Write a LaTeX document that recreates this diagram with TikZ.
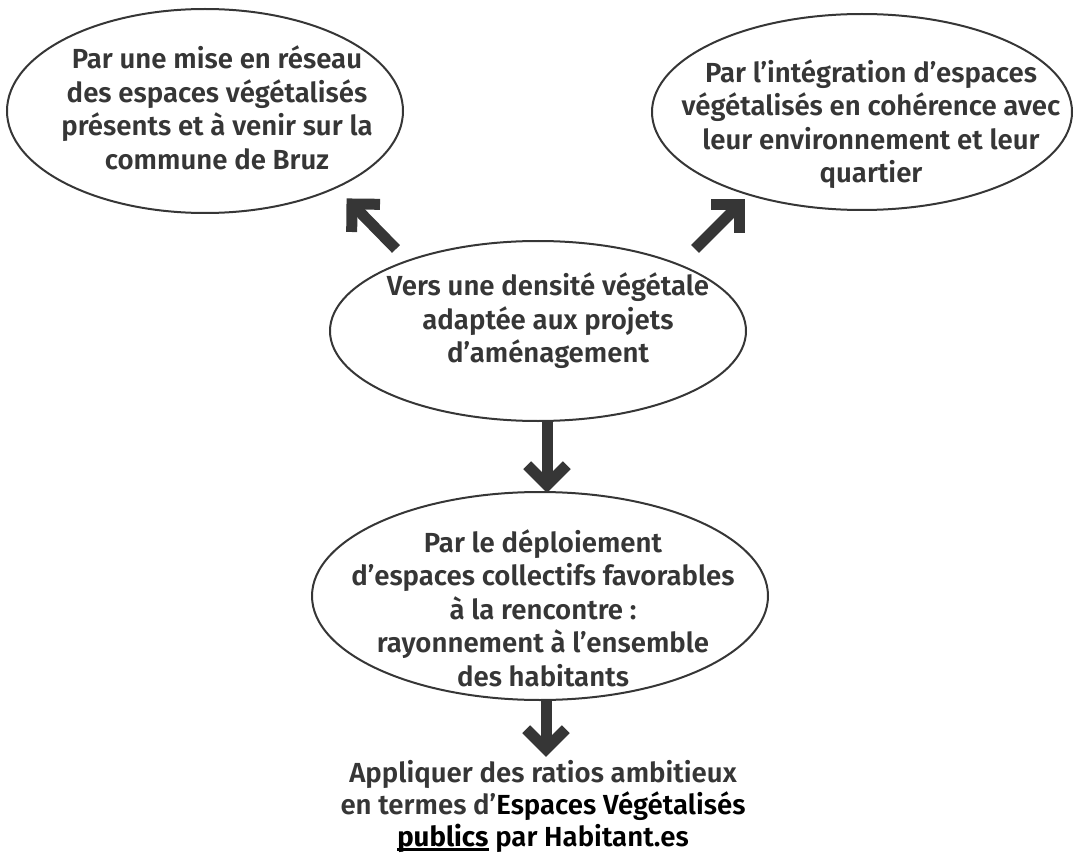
\documentclass[tikz,border=0pt]{standalone}
\usepackage{fontspec}
\IfFontExistsTF{Fira Sans SemiBold}{\setmainfont{Fira Sans}[UprightFont={* SemiBold},BoldFont={* Bold}]}{\setmainfont{Fira Sans}}
\usetikzlibrary{shapes.geometric,calc}
\definecolor{ink}{HTML}{363636}
\newcommand\myul[1]{\setbox0\hbox{#1}\rlap{\rule[-4.5pt]{\wd0}{2.4pt}}\box0\relax}
\tikzset{
  oval/.style={ellipse, draw=ink, line width=2pt, inner sep=0pt},
  label/.style={text=ink, align=center, font=\fontsize{27.6}{33.5}\selectfont, inner sep=0pt},
  arrowline/.style={draw=ink, line width=11pt, line cap=butt},
}
\newcommand\fatarrow[2]{%
  \draw[arrowline] (#1) -- (#2);
  \draw[arrowline, line join=miter] ($(#2)!28pt!-45:(#1)$) -- (#2) -- ($(#2)!28pt!45:(#1)$);
}
\begin{document}
\begin{tikzpicture}[x=1pt,y=-1pt]
\useasboundingbox (0,0) rectangle (1080,856);
% ellipses
\node[oval, minimum width=396pt, minimum height=204pt] (tl) at (205,111) {};
\node[oval, minimum width=420pt, minimum height=196pt] (tr) at (862,112) {};
\node[oval, minimum width=416pt, minimum height=180pt] (mid) at (538,331) {};
\node[oval, minimum width=456pt, minimum height=208pt] (low) at (540,596) {};
% texts
\node[label] (tltext) at (217,108) {Par une mise en réseau\\des espaces végétalisés\\présents et à venir sur la\\commune de Bruz};
\node[label] (trtext) at (871,124) {Par l’intégration d’espaces\\végétalisés en cohérence avec\\leur environnement et leur\\quartier};
\node[label] (midtext) at (548,321) {Vers une densité végétale\\adaptée aux projets\\d’aménagement};
\node[label] (lowtext) at (543,608) {Par le déploiement\\d’espaces collectifs favorables\\à la rencontre :\\rayonnement à l’ensemble\\des habitants};
\node[label, font=\fontsize{27.6}{32}\selectfont] (final) at (543,806) {Appliquer des ratios ambitieux\\en termes d’\textcolor{black}{Espaces Végétalisés}\\\textcolor{black}{\myul{\textbf{publics}} par Habitant.es}};
% arrow anchors
\coordinate (a1s) at (396,249);
\coordinate (a1e) at (352,204);
\coordinate (a2s) at (695,249);
\coordinate (a2e) at (739,205);
\coordinate (a3s) at (547,421);
\coordinate (a3e) at (547,485);
\coordinate (a4s) at (546,699);
\coordinate (a4e) at (546,749);
\fatarrow{a1s}{a1e}
\fatarrow{a2s}{a2e}
\fatarrow{a3s}{a3e}
\fatarrow{a4s}{a4e}
\end{tikzpicture}
\end{document}
